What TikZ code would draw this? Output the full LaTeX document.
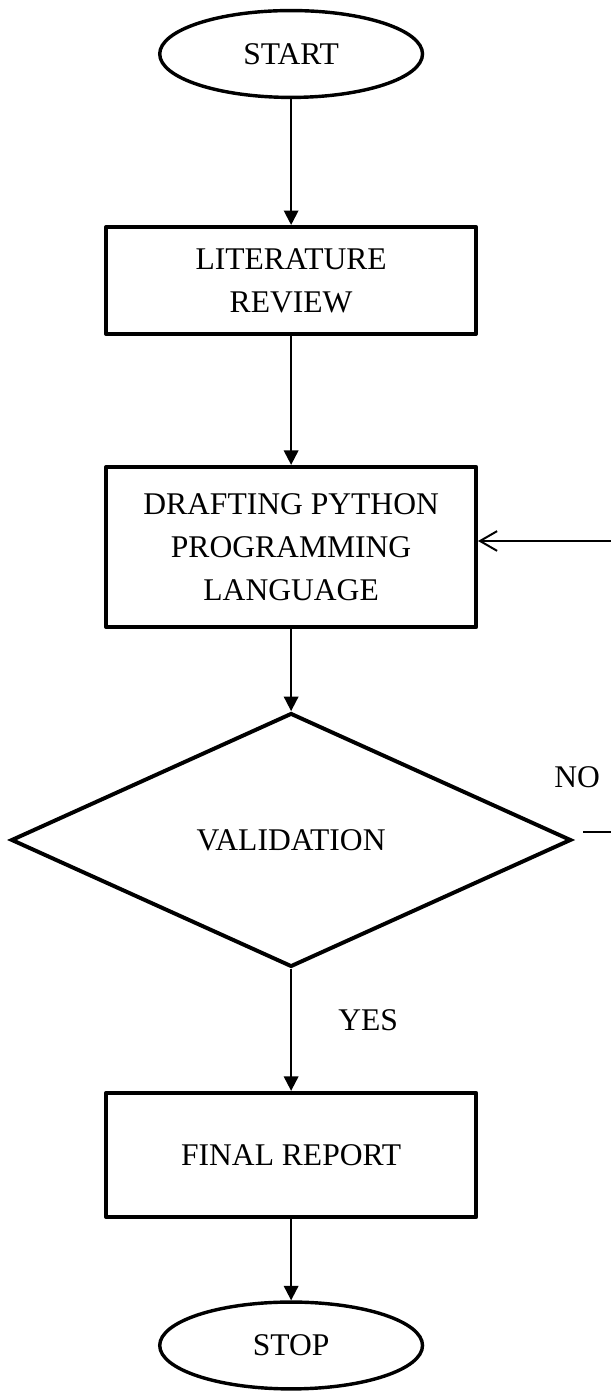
\documentclass[tikz,border=0pt]{standalone}
\usepackage{fontspec}
\setmainfont{Liberation Serif}
\usepackage{tikz}
\usetikzlibrary{shapes.geometric, arrows, arrows.meta}
\tikzstyle{block} = [rectangle, minimum width=4.94cm, minimum height=1.43cm, text centered, align=center, draw=black, line width=1.5pt, line join=round, fill=white, font=\fontsize{12pt}{16.3pt}\selectfont]
\tikzstyle{decision} = [diamond, minimum width=7.48cm, minimum height=3.39cm, text centered, draw=black, line width=1.5pt, fill=white, font=\fontsize{12pt}{16.3pt}\selectfont]
\tikzstyle{terminus} = [ellipse, minimum width=3.51cm, minimum height=1.16cm, text centered, draw=black, line width=1.3pt, fill=white, font=\fontsize{12pt}{16.3pt}\selectfont]
\tikzstyle{arrow} = [line width=0.75pt,-{Triangle[length=5.5pt,width=5.5pt]}]
\tikzstyle{backarrow} = [line width=0.75pt,-{Straight Barb[length=6.5pt,width=7.5pt]}]
\tikzstyle{label} = [font=\fontsize{12pt}{16.3pt}\selectfont]

\begin{document}
\begin{tikzpicture}[node distance=3cm]
        \path[use as bounding box] (-3.888,0.721) rectangle (4.262,-17.856);
        \node (start) [terminus] {START};
        \node (blo1) [block, below of=start, yshift=-0.025cm] {LITERATURE\\REVIEW};
        \node (blo2) [block, below of=blo1, minimum height=2.14cm, yshift=-0.559cm] {DRAFTING PYTHON\\PROGRAMMING\\LANGUAGE};
        \node (dec1) [decision, below of=blo2, yshift=-0.913cm] {VALIDATION};
        \node (blo3) [block, below of=dec1, minimum height=1.66cm, yshift=-1.207cm] {FINAL REPORT};
        \node (stop1) [terminus, below of=blo3, yshift=+0.456cm] {STOP};
        \coordinate (loop) at ([xshift=1.0cm, yshift=0.107cm]dec1.east);

        \draw [arrow] (start) -- (blo1);
        \draw [arrow] (blo1) -- (blo2);
        \draw [arrow] (blo2) -- (dec1);
        \draw [arrow] (dec1) -- node[label, anchor=west, xshift=0.5cm, yshift=0.13cm] {YES} (blo3);
        \draw [arrow] (blo3) -- (stop1);
        \draw [backarrow] ([xshift=0.134cm, yshift=0.107cm]dec1.east) -- node[label, pos=0, anchor=south, xshift=-0.08cm, yshift=0.46cm] {NO} (loop) |- ([yshift=0.08cm]blo2.east);
 \end{tikzpicture}
\end{document}
